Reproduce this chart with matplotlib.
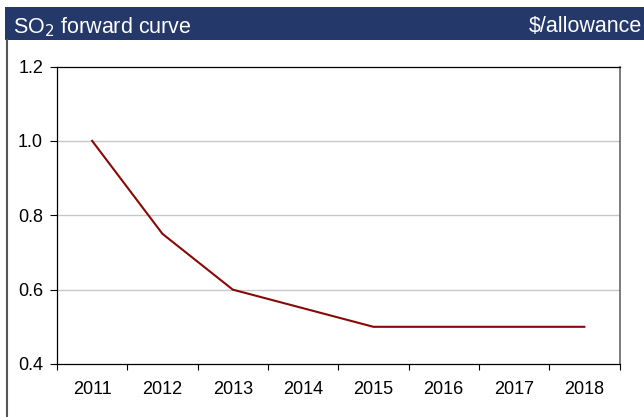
import matplotlib
matplotlib.use("Agg")
import matplotlib.pyplot as plt
from matplotlib.patches import Rectangle
from matplotlib.lines import Line2D
from matplotlib.ticker import FixedLocator, NullFormatter

plt.rcParams['font.family'] = ['Liberation Sans', 'DejaVu Sans']

years = ['2011', '2012', '2013', '2014', '2015', '2016', '2017', '2018']
prices = [1.0, 0.75, 0.6, 0.55, 0.5, 0.5, 0.5, 0.5]
y_ticks = [0.4, 0.6, 0.8, 1.0, 1.2]
title_left = 'SO$_2$ forward curve'
title_right = '\\$/allowance'

W, H = 644, 417
fig = plt.figure(figsize=(W / 100, H / 100), dpi=100)
fig.patch.set_facecolor('white')

# header bar
fig.patches.append(Rectangle((5 / W, 1 - 39.5 / H), 1 - 5 / W, 32.5 / H,
                             transform=fig.transFigure, facecolor='#25386A',
                             edgecolor='none', zorder=1))
fig.text(13 / W, 1 - 24 / H, title_left, color='white', fontsize=15.5,
         va='center_baseline', ha='left')
fig.text(1 - 2 / W, 1 - 24 / H, title_right, color='white', fontsize=15.5,
         va='center_baseline', ha='right')
# left border
fig.lines.append(Line2D([7 / W, 7 / W], [0, 1 - 39.5 / H], transform=fig.transFigure,
                        color='#555555', linewidth=1.5))

ax = fig.add_axes([57 / W, 53 / H, (619.5 - 57) / W, (364 - 66.5) / H])
x = list(range(len(years)))
ax.plot(x, prices, color='#880808', linewidth=1.5, zorder=3)

ax.set_xlim(-0.5, len(years) - 0.5)
ax.set_ylim(0.4, 1.2)
ax.set_yticks(y_ticks)
ax.set_yticklabels([f'{v:.1f}' for v in y_ticks])
ax.set_xticks(x)
ax.set_xticklabels(years)
ax.xaxis.set_minor_locator(FixedLocator([i - 0.5 for i in range(len(years) + 1)]))
ax.xaxis.set_minor_formatter(NullFormatter())
ax.tick_params(axis='x', which='major', length=0, pad=12, labelsize=13, colors='black')
ax.tick_params(axis='x', which='minor', length=4, width=0.8, direction='out', color='black')
ax.tick_params(axis='y', length=5, width=0.8, direction='out', pad=5, labelsize=13)

for v in [0.6, 0.8, 1.0]:
    ax.axhline(v, color='#C8C8C8', linewidth=1.0, zorder=1)

for s in ['left', 'bottom', 'top']:
    ax.spines[s].set_color('black')
    ax.spines[s].set_linewidth(0.9)
ax.spines['right'].set_color('#666666')
ax.spines['right'].set_linewidth(1.2)

fig.savefig('out.png', dpi=100)
